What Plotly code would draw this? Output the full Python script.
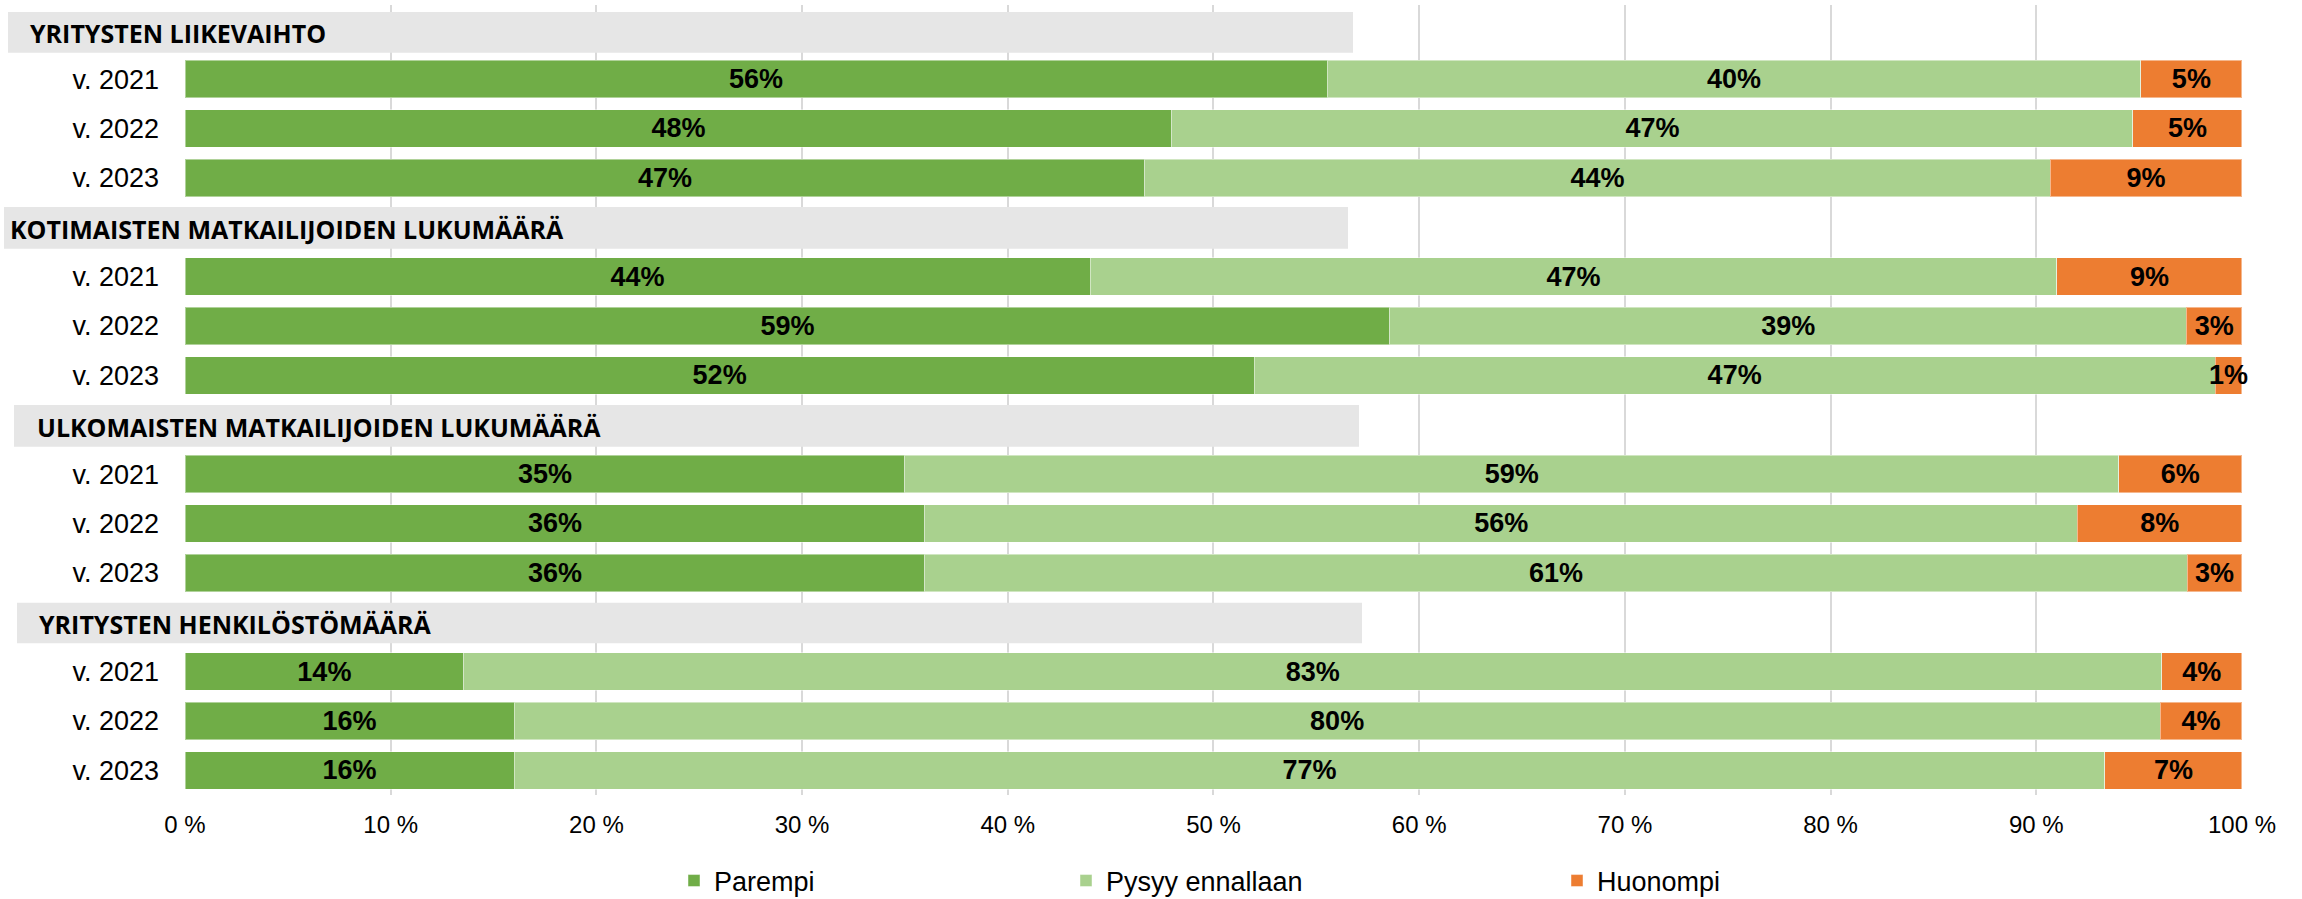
import plotly.graph_objects as go

# Survey groups and the years asked within each group
groups = [
    "YRITYSTEN LIIKEVAIHTO",
    "KOTIMAISTEN MATKAILIJOIDEN LUKUMÄÄRÄ",
    "ULKOMAISTEN MATKAILIJOIDEN LUKUMÄÄRÄ",
    "YRITYSTEN HENKILÖSTÖMÄÄRÄ",
]
years = ["v. 2021", "v. 2022", "v. 2023"]

# Shares of responses (%) per row, in the order group by group, year by year
parempi = [55.52, 47.98, 46.67, 44.0, 58.58, 51.98, 35.0, 35.97, 35.97, 13.55, 16.0, 16.0]
pysyy = [39.56, 46.72, 44.0, 47.0, 38.72, 46.71, 59.0, 56.03, 61.36, 82.55, 80.02, 77.34]
huonompi = [4.92, 5.3, 9.33, 9.0, 2.7, 1.31, 6.0, 8.0, 2.67, 3.9, 3.98, 6.66]

# Percentage axis ticks
x_ticks = [0, 10, 20, 30, 40, 50, 60, 70, 80, 90, 100]
x_tick_labels = ["0 %", "10 %", "20 %", "30 %", "40 %", "50 %",
                 "60 %", "70 %", "80 %", "90 %", "100 %"]

series = [
    ("Parempi", parempi, "#70AD47", "legend"),
    ("Pysyy ennallaan", pysyy, "#A9D18E", "legend2"),
    ("Huonompi", huonompi, "#ED7D31", "legend3"),
]

# Canvas geometry (pixels)
W, H = 2302, 899
ML, MR, MT, MB = 185, 60, 5, 104
PW = W - ML - MR
PH = H - MT - MB
N_ROWS = len(groups) * (len(years) + 1)
PITCH = PH / N_ROWS


def px_x(px):
    return (px - ML) / PW


def px_y(py):
    return (py - MT) / PITCH - 0.5


# Row index of every header and data row on the numeric y axis
header_rows = [g * (len(years) + 1) for g in range(len(groups))]
data_rows = [h + 1 + j for h in header_rows for j in range(len(years))]
row_labels = [y for _ in groups for y in years]

fig = go.Figure()
for name, vals, color, leg in series:
    fig.add_trace(go.Bar(
        name=name,
        orientation="h",
        x=vals,
        y=data_rows,
        width=0.762,
        marker=dict(color=color, line=dict(color="rgba(255,255,255,0.45)", width=1)),
        texttemplate="%{x:.0f}%",
        textposition="inside",
        insidetextanchor="middle",
        textangle=0,
        constraintext="none",
        cliponaxis=False,
        textfont=dict(family="Arial, Liberation Sans", size=27, color="black", weight="bold"),
        hoverinfo="skip",
        legend=leg,
    ))

# Grey header bands with group titles
band_left = [8, 4, 14, 17]
band_right = [1353, 1348, 1359, 1362]
band_top = [12, 207, 405, 602.7]
band_bottom = [52.7, 248.7, 446.7, 643.3]
title_left = [28, 8, 35, 37]

shapes = []
annotations = []
for i, g in enumerate(groups):
    shapes.append(dict(
        type="rect", xref="paper", yref="y",
        x0=px_x(band_left[i]), x1=px_x(band_right[i]),
        y0=px_y(band_top[i]), y1=px_y(band_bottom[i]),
        fillcolor="#E6E6E6", line=dict(width=0), layer="above",
    ))
    annotations.append(dict(
        text=g, xref="paper", yref="y",
        x=px_x(title_left[i]), y=px_y((band_top[i] + band_bottom[i]) / 2 + 1),
        xanchor="left", yanchor="middle", showarrow=False,
        font=dict(family="Open Sans", size=25, color="black", weight="bold"),
    ))

legend_style = dict(
    orientation="h", xref="container", yref="container",
    yanchor="middle", y=1 - 881 / H,
    font=dict(family="Arial, Liberation Sans", size=27, color="black"),
    bgcolor="rgba(0,0,0,0)", itemclick=False,
)

fig.update_layout(
    width=W, height=H,
    margin=dict(l=ML, r=MR, t=MT, b=MB),
    paper_bgcolor="white", plot_bgcolor="white",
    barmode="stack",
    showlegend=True,
    shapes=shapes,
    annotations=annotations,
    legend=dict(legend_style, x=(694 - 20) / W),
    legend2=dict(legend_style, x=(1086 - 20) / W),
    legend3=dict(legend_style, x=(1577 - 20) / W),
    xaxis=dict(
        # a hair beyond 100 so stacked totals with float round-off stay in range
        range=[0, 100.001], tickvals=x_ticks, ticktext=x_tick_labels,
        showgrid=True, gridcolor="#D9D9D9", gridwidth=2,
        zeroline=False, showline=False, ticks="",
        tickfont=dict(family="Arial, Liberation Sans", size=24, color="black"),
        ticklabelstandoff=13,
    ),
    yaxis=dict(
        range=[N_ROWS - 0.5, -0.5], tickvals=data_rows, ticktext=row_labels,
        showgrid=False, zeroline=False, showline=False, ticks="",
        tickfont=dict(family="Arial, Liberation Sans", size=27, color="black"),
        ticklabelstandoff=25,
    ),
)

fig.write_html("out.html")
